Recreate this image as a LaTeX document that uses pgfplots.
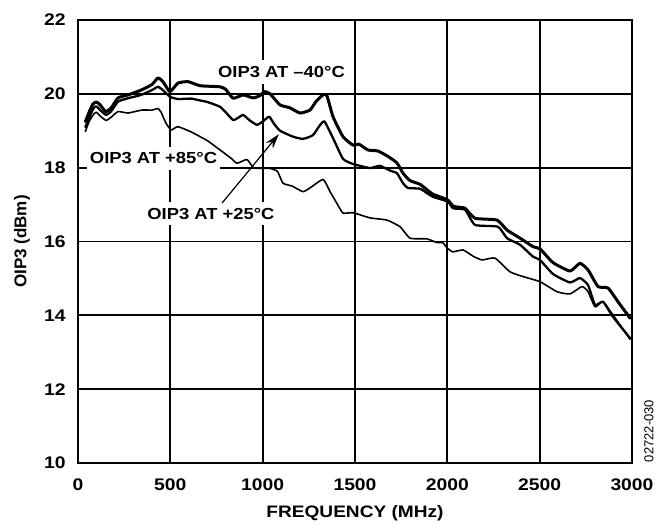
\documentclass[border=0pt]{standalone}
\usepackage{fontspec}
\setmainfont{Liberation Sans}[FakeStretch=1.15]
\newfontfamily\plainfont{Liberation Sans}
\usepackage{pgfplots}
\pgfplotsset{compat=1.18}
\usetikzlibrary{arrows.meta}

\begin{document}
\begin{tikzpicture}
\begin{axis}[
  scale only axis, width=277pt, height=221.5pt,
  xmin=0, xmax=3000, ymin=10, ymax=22,
  xtick={0,500,1000,1500,2000,2500,3000}, ytick={10,12,14,16,18,20,22},
  grid=major, major grid style={black, line width=0.9pt},
  axis line style={line width=1.1pt},
  major tick length=0pt,
  tick label style={font=\fontsize{8.4}{10}\selectfont\bfseries},
  /pgf/number format/assume math mode=true,
  /pgf/number format/1000 sep={},
  xticklabel style={yshift=-4.2pt},
  yticklabel style={xshift=-2.7pt},
  xlabel={FREQUENCY (MHz)},
  ylabel={\plainfont\fontsize{8.5}{10}\selectfont\bfseries OIP3 (dBm)},
  xlabel style={at={(axis description cs:0.5,-0.1129)}, anchor=center, font=\fontsize{8.3}{10}\selectfont\bfseries},
  ylabel style={at={(axis description cs:-0.1011,0.5)}, anchor=center},
  every axis plot/.append style={black, line join=round, line cap=round, smooth, tension=0.3},
]
\node[fill=white, inner xsep=1.5pt, inner ysep=3pt, font=\fontsize{8}{10}\selectfont\bfseries] at (axis cs:1102,20.59) {OIP3 AT \textendash40\textdegree C};
\node[fill=white, inner xsep=1.5pt, inner ysep=3pt, font=\fontsize{8}{10}\selectfont\bfseries] at (axis cs:409,18.25) {OIP3 AT +85\textdegree C};
\node[fill=white, inner xsep=1.5pt, inner ysep=3pt, font=\fontsize{8}{10}\selectfont\bfseries] at (axis cs:720,16.75) {OIP3 AT +25\textdegree C};

% +85 C
\addplot[line width=0.8pt] coordinates {
(40,18.98) (60,19.25) (85,19.45) (100,19.5) (120,19.4) (152,19.28) (180,19.37) (217,19.52) (271,19.48) (345,19.56) (400,19.56) (433,19.6) (450,19.5) (475,19.22) (504,19.02) (541,19.11) (612,18.97) (661,18.84) (704,18.72) (769,18.48) (830,18.25) (861,18.12) (915,18.22) (950,18.0) (1000,17.98) (1040,17.98) (1080,17.9) (1110,17.58) (1160,17.5) (1218,17.35) (1256,17.45) (1327,17.68) (1365,17.35) (1400,17.05) (1435,16.77) (1489,16.78) (1581,16.64) (1673,16.58) (1744,16.40) (1798,16.09) (1890,16.07) (1944,15.97) (1975,15.97) (2000,15.82) (2030,15.72) (2085,15.77) (2140,15.6) (2188,15.50) (2258,15.55) (2339,15.18) (2410,15.05) (2502,14.91) (2594,14.64) (2664,14.58) (2729,14.78) (2762,14.64) (2800,14.23) (2843,14.37) (2897,14.01) (2990,13.35)
};
% +25 C
\addplot[line width=1.15pt] coordinates {
(40,19.1) (60,19.35) (85,19.62) (100,19.66) (120,19.56) (152,19.43) (180,19.53) (217,19.79) (271,19.88) (341,19.97) (400,20.1) (433,20.19) (460,20.1) (498,19.92) (541,19.86) (612,19.87) (661,19.82) (700,19.78) (769,19.65) (800,19.5) (840,19.29) (870,19.36) (894,19.43) (930,19.28) (969,19.16) (1000,19.25) (1035,19.38) (1060,19.2) (1094,19.0) (1164,18.84) (1218,18.78) (1272,18.88) (1310,19.15) (1335,19.25) (1381,18.8) (1435,18.24) (1489,18.1) (1581,17.99) (1635,18.05) (1690,17.92) (1727,17.85) (1760,17.58) (1787,17.45) (1852,17.43) (1890,17.31) (1922,17.21) (2003,17.08) (2031,16.9) (2096,16.86) (2150,16.45) (2274,16.40) (2323,16.09) (2394,15.91) (2464,15.59) (2502,15.50) (2572,15.12) (2664,14.89) (2718,15.01) (2762,14.82) (2800,14.28) (2843,14.37) (2897,13.96) (2990,13.38)
};
% -40 C
\addplot[line width=1.5pt] coordinates {
(40,19.25) (60,19.5) (80,19.72) (100,19.78) (120,19.7) (150,19.52) (180,19.62) (217,19.89) (271,19.97) (341,20.1) (400,20.25) (433,20.43) (460,20.33) (498,20.06) (541,20.29) (596,20.33) (661,20.22) (769,20.19) (800,20.12) (840,19.88) (894,19.97) (948,19.89) (985,19.95) (1010,20.06) (1040,20.0) (1094,19.70) (1148,19.62) (1202,19.48) (1256,19.56) (1290,19.8) (1327,19.97) (1348,19.95) (1381,19.38) (1435,18.84) (1489,18.61) (1520,18.64) (1570,18.48) (1625,18.45) (1680,18.3) (1727,18.13) (1760,17.85) (1798,17.65) (1852,17.55) (1890,17.40) (1922,17.28) (1960,17.21) (2003,17.12) (2031,16.96) (2058,16.93) (2096,16.90) (2150,16.63) (2269,16.58) (2323,16.31) (2394,16.09) (2464,15.86) (2502,15.80) (2572,15.43) (2664,15.20) (2718,15.41) (2762,15.23) (2816,14.78) (2870,14.74) (2924,14.37) (2990,13.92)
};
\draw[line width=0.6pt, -{Stealth[length=7.5pt, width=4.5pt]}] (axis cs:780,17.04) -- (axis cs:1088,18.91);
\end{axis}
\node[rotate=90, anchor=center, font=\plainfont\fontsize{6.5}{8}\selectfont] at ([shift={(8.5pt,16pt)}]current axis.south east) {02722-030};
\pgfresetboundingbox
\path[use as bounding box] ([shift={(-39pt,-33pt)}]current axis.south west) rectangle ++(335pt,264.5pt);
\end{tikzpicture}
\end{document}
